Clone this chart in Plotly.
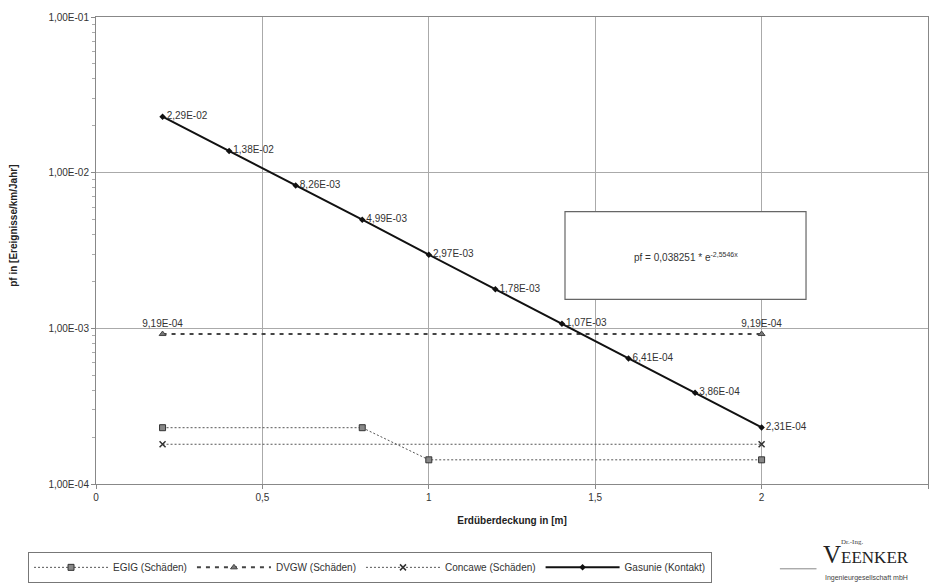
import plotly.graph_objects as go

# Gasunie (Kontakt): failure frequency vs. soil cover
gasunie_x = [0.2, 0.4, 0.6, 0.8, 1.0, 1.2, 1.4, 1.6, 1.8, 2.0]
gasunie_y = [2.29e-2, 1.38e-2, 8.26e-3, 4.99e-3, 2.97e-3, 1.78e-3, 1.07e-3, 6.41e-4, 3.86e-4, 2.31e-4]

# DVGW (Schäden)
dvgw_x = [0.2, 2.0]
dvgw_y = [9.19e-4, 9.19e-4]

# EGIG (Schäden)
egig_x = [0.2, 0.8, 1.0, 2.0]
egig_y = [2.30e-4, 2.30e-4, 1.43e-4, 1.43e-4]

# Concawe (Schäden)
concawe_x = [0.2, 2.0]
concawe_y = [1.80e-4, 1.80e-4]

x_ticks = [0, 0.5, 1, 1.5, 2, 2.5]
x_ticktext = ["0", "0,5", "1", "1,5", "2", "2,5"]
y_ticks = [1e-4, 1e-3, 1e-2, 1e-1]
y_ticktext = ["1,00E-04", "1,00E-03", "1,00E-02", "1,00E-01"]

equation = "pf = 0,038251 * e<sup>-2,5546x</sup>"


def de_sci(v):
    """Format a value like 2,29E-02."""
    return f"{v:.2E}".replace(".", ",")


FONT = "Liberation Sans, Arial, sans-serif"
TXT = "#333333"

fig = go.Figure()

fig.add_trace(go.Scatter(
    x=egig_x, y=egig_y, name="EGIG (Schäden)", mode="lines+markers",
    line=dict(color="#555555", width=1, dash="2px,2px"),
    marker=dict(symbol="square", size=6, color="#888888",
                line=dict(color="#333333", width=1)),
))

fig.add_trace(go.Scatter(
    x=dvgw_x, y=dvgw_y, name="DVGW (Schäden)", mode="lines+markers+text",
    line=dict(color="#444444", width=2, dash="4px,5px"),
    marker=dict(symbol="triangle-up", size=6, color="#777777",
                line=dict(color="#444444", width=1)),
    text=[de_sci(v) for v in dvgw_y], textposition="top center",
    textfont=dict(family=FONT, size=10, color=TXT),
))

fig.add_trace(go.Scatter(
    x=concawe_x, y=concawe_y, name="Concawe (Schäden)", mode="lines+markers",
    line=dict(color="#555555", width=1, dash="2px,2px"),
    marker=dict(symbol="x-thin", size=6, color="#333333",
                line=dict(color="#333333", width=1.5)),
))

fig.add_trace(go.Scatter(
    x=gasunie_x, y=gasunie_y, name="Gasunie (Kontakt)", mode="lines+markers+text",
    line=dict(color="#111111", width=2),
    marker=dict(symbol="diamond", size=5, color="#111111"),
    text=[de_sci(v) for v in gasunie_y], textposition="middle right",
    textfont=dict(family=FONT, size=10, color=TXT),
))

# Regression equation box
fig.add_shape(type="rect", xref="paper", yref="paper",
              x0=0.5637, x1=0.8534, y0=0.3953, y1=0.5833,
              line=dict(color="#666666", width=1.2), fillcolor="white", layer="above")
fig.add_annotation(xref="paper", yref="paper", x=0.709, y=0.487,
                   xanchor="center", yanchor="middle",
                   text=equation, showarrow=False,
                   font=dict(family=FONT, size=10, color=TXT))

# Y axis title
fig.add_annotation(xref="paper", yref="paper", x=-0.0985, y=0.553,
                   xanchor="center", yanchor="middle",
                   text="<b>pf in [Ereignisse/km/Jahr]</b>", textangle=-90,
                   showarrow=False, font=dict(family=FONT, size=10, color="#222222"))

# Company logo
fig.add_annotation(xref="paper", yref="paper", x=0.9087, y=-0.124,
                   xanchor="center", yanchor="middle",
                   text="Dr.-Ing.", showarrow=False,
                   font=dict(family="Liberation Serif, serif", size=7, color="#444444"))
fig.add_annotation(xref="paper", yref="paper", x=0.926, y=-0.152,
                   xanchor="center", yanchor="middle",
                   text="V<span style='font-size:17px'>EENKER</span>", showarrow=False,
                   font=dict(family="Liberation Serif, serif", size=25, color="#222222"))
fig.add_shape(type="line", xref="paper", yref="paper",
              x0=0.822, x1=0.866, y0=-0.1816, y1=-0.1816,
              line=dict(color="#888888", width=1))
fig.add_annotation(xref="paper", yref="paper", x=0.926, y=-0.201,
                   xanchor="center", yanchor="middle",
                   text="Ingenieurgesellschaft mbH", showarrow=False,
                   font=dict(family="Liberation Sans, sans-serif", size=7, color="#444444"))

fig.update_layout(
    width=934, height=583,
    margin=dict(l=96, r=6, t=17, b=99, autoexpand=False),
    paper_bgcolor="white", plot_bgcolor="white",
    font=dict(family=FONT, size=10, color=TXT),
    showlegend=True,
    legend=dict(orientation="h", x=-0.0817, y=-0.1453, xanchor="left", yanchor="top",
                bordercolor="#777777", borderwidth=1,
                font=dict(family=FONT, size=10, color=TXT),
                itemwidth=74, tracegroupgap=0),
    xaxis=dict(range=[0, 2.5], tickvals=x_ticks, ticktext=x_ticktext,
               showgrid=True, gridcolor="#aaaaaa", gridwidth=1,
               showline=True, linecolor="#888888", linewidth=1, mirror=True,
               ticks="outside", ticklen=4, tickcolor="#888888",
               zeroline=False,
               title=dict(text="<b>Erdüberdeckung in [m]</b>", standoff=14,
                          font=dict(family=FONT, size=10, color="#222222"))),
    yaxis=dict(type="log", range=[-4, -1], tickvals=y_ticks, ticktext=y_ticktext,
               showgrid=True, gridcolor="#aaaaaa", gridwidth=1,
               showline=True, linecolor="#888888", linewidth=1, mirror=True,
               ticks="outside", ticklen=4, tickcolor="#888888",
               minor=dict(ticks="outside", ticklen=3, tickcolor="#aaaaaa",
                          showgrid=False,
                          tickvals=[m * 10 ** e for e in (-4, -3, -2) for m in range(2, 10)]),
               zeroline=False),
)

fig.write_html("out.html")
